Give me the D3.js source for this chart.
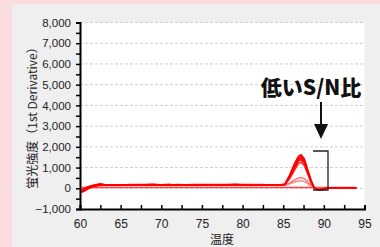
<!DOCTYPE html>
<html><head><meta charset="utf-8">
<script src="https://cdn.jsdelivr.net/npm/d3@7"></script>
<style>
html,body{margin:0;padding:0;background:#fbdde0;}
svg{display:block;}
</style></head>
<body>
<svg id="c" width="380" height="247"></svg>
<script>
const temps = [60.2,60.6,61.0,61.5,62.0,62.5,63,64,65,66,67,68,69,70,71,72,73,74,75,76,77,78,79,80,81,82,83,84,84.6,85.2,85.8,86.4,86.9,87.2,87.6,88.0,88.4,88.8,89.3,89.8,90.3,91,92,93,94];
const s1 = [-150,-60,20,80,130,170, 160,175,150,180,165,170,190,160,175,165,170,185,175,160,170,180,175,165,185,170,175,160, 165, 200,650,1200,1560,1620,1420,920,420,40,-90,-70, 0,20,10,30,20];
const s2 = [-100,-20,60,120,160,190, 170,150,175,160,180,165,150,175,185,160,175,165,180,170,150,175,190,180,165,175,160,170, 175, 190,600,1120,1480,1540,1340,860,380,20,-80,-60, 10,30,20,10,30];
const s3 = [-200,-120,-20,60,110,150, 165,170,160,150,170,180,165,150,170,175,160,150,170,185,165,170,160,175,170,155,170,165, 160, 185,560,1050,1400,1460,1270,820,350,30,-70,-50, 0,10,30,20,10];
const s4 = [-80,0,80,140,180,220, 180,165,175,170,160,175,185,170,160,180,170,175,160,170,180,165,170,175,160,185,165,170, 165, 180,520,980,1320,1380,1200,770,330,20,-60,-40, 20,20,10,30,20];
const s5 = [-180,-100,0,90,140,170, 160,175,165,155,170,160,175,165,180,150,175,160,170,165,175,160,185,170,160,170,175,165, 170, 175,470,880,1200,1250,1090,700,300,10,-50,-30, 10,20,30,10,20];
const s6 = [-60,10,70,120,150,160, 150,160,145,160,155,165,150,160,155,140,160,165,150,155,160,150,165,155,160,150,155,160, 150, 160,260,400,500,520,460,320,160,20,-20,-10, 10,20,10,20,10];
const s7 = [-120,-40,40,100,140,150, 140,150,135,145,150,140,155,145,140,150,145,135,150,145,140,150,145,150,140,145,150,145, 140, 150,220,300,350,360,320,230,120,10,-10,0, 10,10,20,10,20];
const s8 = [40,40,40,40,40,40, 40,40,40,40,40,40,40,40,40,40,40,40,40,40,40,40,40,40,40,40,40,40, 40, 40,40,40,40,40,40,40,40,40,40,40, 40,40,40,40,40];
const seriesList = [
  {v:s8,c:"#ff4040"},{v:s7,c:"#ff8a8a"},{v:s6,c:"#ff7878"},{v:s5,c:"#ff2a2a"},
  {v:s4,c:"#ff1010"},{v:s3,c:"#ff0000"},{v:s2,c:"#ff0000"},{v:s1,c:"#ff0000"}
];
const yTicks = [-1000,0,1000,2000,3000,4000,5000,6000,7000,8000];
const xTicks = [60,65,70,75,80,85,90,95];
const yLabel = "蛍光強度（1st Derivative）";
const xLabel = "温度";
const note = "低いS/N比";

const svg = d3.select("#c");
svg.append("rect").attr("x",12).attr("y",4).attr("width",368).attr("height",243).attr("fill","#efefef");
const x = d3.scaleLinear().domain([60,95]).range([80,364.5]);
const y = d3.scaleLinear().domain([-1000,8000]).range([209,22.5]);
svg.append("rect").attr("x",x(60)).attr("y",y(8000)).attr("width",x(95)-x(60)).attr("height",y(-1000)-y(8000)).attr("fill","#ffffff");
// grid
svg.append("g").selectAll("line").data(yTicks.filter(d=>d>-1000)).join("line")
  .attr("x1",x(60)).attr("x2",x(95)).attr("y1",d=>y(d)).attr("y2",d=>y(d))
  .attr("stroke","#cfcfcf").attr("stroke-width",1).attr("stroke-dasharray","3,2");
// lines
const line = d3.line().x((d,i)=>x(temps[i])).y(d=>y(d));
svg.append("g").selectAll("path").data(seriesList).join("path")
  .attr("d",d=>line(d.v)).attr("fill","none").attr("stroke",d=>d.c).attr("stroke-width",1.5);
// y axis
const yMinor = d3.range(-1000,8001,500);
const yAx = d3.axisLeft(y).tickValues(yMinor).tickSize(4).tickFormat(d=>yTicks.includes(d)?d3.format(",")(d):"");
const gy = svg.append("g").attr("transform",`translate(${x(60)},0)`).call(yAx);
gy.select(".domain").attr("stroke","#000").attr("stroke-width",2);
gy.selectAll(".tick line").attr("stroke","#000").attr("stroke-width",1.5);
gy.selectAll("text").attr("font-family","Liberation Sans, Arial, sans-serif").attr("font-size",11.5).attr("fill","#222").attr("x",-9);
// x axis
const xMinor = d3.range(60,95.1,2.5);
const xAx = d3.axisBottom(x).tickValues(xMinor).tickSize(-4).tickFormat(d=>xTicks.includes(d)?d:"");
const gx = svg.append("g").attr("transform",`translate(0,${y(-1000)})`).call(xAx);
gx.select(".domain").attr("stroke","#000").attr("stroke-width",2);
gx.selectAll(".tick line").attr("stroke","#000").attr("stroke-width",1.5);
gx.selectAll("text").attr("font-family","Liberation Sans, Arial, sans-serif").attr("font-size",12).attr("fill","#222").attr("y",10);
// labels
svg.append("text").attr("x",222).attr("y",244).attr("text-anchor","middle")
  .attr("font-family","Noto Sans CJK JP, sans-serif").attr("font-size",12).attr("fill","#222").text(xLabel);
svg.append("text").attr("transform","translate(37,115) rotate(-90)").attr("text-anchor","middle")
  .attr("font-family","Noto Sans CJK JP, sans-serif").attr("font-size",12).attr("fill","#222").text(yLabel);
// annotation
svg.append("text").attr("x",311).attr("y",95).attr("text-anchor","middle")
  .attr("font-family","Noto Sans CJK JP, sans-serif").attr("font-weight",900).attr("font-size",21).attr("fill","#111").text(note);
svg.append("line").attr("x1",321).attr("x2",321).attr("y1",102).attr("y2",126).attr("stroke","#111").attr("stroke-width",2);
svg.append("path").attr("d","M314,124 L328,124 L321,139 Z").attr("fill","#111");
svg.append("path").attr("d","M313,151 L328,151 L328,190 L313,190").attr("fill","none").attr("stroke","#222").attr("stroke-width",1.3);
</script>
</body></html>
